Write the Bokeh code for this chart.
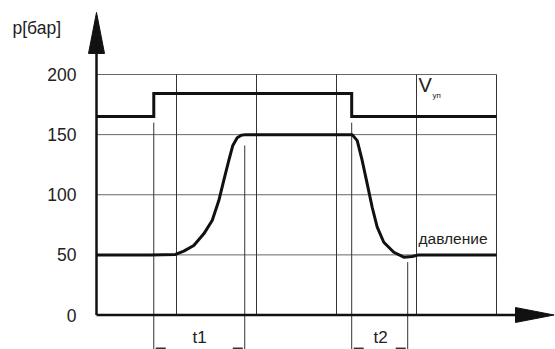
from bokeh.plotting import figure
from bokeh.embed import file_html
from bokeh.resources import INLINE
from bokeh.core.properties import value

# --- data ---
y_ticks = [0, 50, 100, 150, 200]
y_tick_labels = ["0", "50", "100", "150", "200"]
x_grid = [1, 2, 3, 4, 5]

# valve signal V_уп (step)
v_x = [0, 0.716, 0.716, 3.19, 3.19, 5]
v_y = [165.1, 165.1, 184.2, 184.2, 165.1, 165.1]

# pressure curve (давление)
p_x = [0, 0.675, 0.9875, 1.091, 1.216, 1.341, 1.446, 1.529, 1.591, 1.654, 1.704, 1.759, 1.81, 1.8625,
       2.9875, 3.196, 3.259, 3.321, 3.384, 3.446, 3.509, 3.591, 3.716, 3.841, 3.946, 4.029, 5]
p_y = [50, 50, 50.4, 53.1, 57.8, 67.5, 78.6, 95.2, 111.9, 128.5, 141, 147.4, 149.5, 150,
       150, 150, 145, 128.5, 109, 89.6, 73, 60.5, 52.2, 48.1, 48.6, 50, 50]

# time markers
mark_x = [0.716, 1.853, 3.19, 3.89]
mark_top = [160, 141, 160, 44]
t_labels = ["t1", "t2"]
t_label_x = [1.2875, 3.55]

FONT = value("Liberation Sans")

W, H = 555, 349
XS, Y0, YS = 80.0, 314.5, 1.2025  # px per x unit, px of y=0, px per y unit
p = figure(width=W, height=H, output_backend="svg", toolbar_location=None,
           x_range=(-96 / XS, (W - 96) / XS), y_range=((Y0 - H) / YS, Y0 / YS),
           x_axis_type=None, y_axis_type=None, min_border=0,
           outline_line_color=None)
p.background_fill_color = "white"
p.border_fill_color = "white"

# grid
p.multi_line([[0, 5] for _ in y_ticks[1:]], [[v, v] for v in y_ticks[1:]],
             line_color="#666666", line_width=1)
p.multi_line([[v, v] for v in x_grid], [[0, 200] for _ in x_grid],
             line_color="#333333", line_width=1)

# marker lines
p.multi_line([[x, x] for x in mark_x], [[t, -40] for t in mark_top],
             line_color="#333333", line_width=1)

# dimension arrow stubs (mostly cut off at the bottom edge)
dim_y = (Y0 - 347.8) / YS
stubs_x = []
for a, b in [(mark_x[0], mark_x[1]), (mark_x[2], mark_x[3])]:
    stubs_x.append([a + 2 / XS, a + 12 / XS])
    stubs_x.append([b - 12 / XS, b - 2 / XS])
p.multi_line(stubs_x, [[dim_y, dim_y]] * len(stubs_x), line_color="#333333", line_width=1.5)

# axes
p.line([0, 0], [0, 220], line_color="#111111", line_width=2.5)
p.patch([-0.1, 0.1, 0.0], [217.5, 217.5, 251.6], fill_color="#111111", line_color="#111111")
p.line([0, 5.25], [0, 0], line_color="#111111", line_width=2.5)
p.patch([5.2375, 5.2375, 5.72], [-6.2, 6.2, 0], fill_color="#111111", line_color="#111111")

# signals
p.line(v_x, v_y, line_color="#111111", line_width=3, line_join="miter")
p.line(p_x, p_y, line_color="#111111", line_width=3, line_join="round")

# tick labels
p.text(x=[-0.25] * len(y_ticks), y=y_ticks, text=y_tick_labels, text_font=FONT,
       text_font_size="17.5px", text_align="right", text_baseline="middle", text_color="#222222")

# axis title
p.text(x=[-1.05], y=[239], text=["p[бар]"], text_font=FONT, text_font_size="17.5px",
       text_align="left", text_baseline="middle", text_color="#222222")

# t labels
p.text(x=t_label_x, y=[-18.3, -18.3], text=t_labels, text_font=FONT, text_font_size="17px",
       text_align="center", text_baseline="middle", text_color="#222222")

# V_уп label
p.text(x=[4.025], y=[190.9], text=["V"], text_font=FONT, text_font_size="20px",
       text_align="left", text_baseline="middle", text_color="#222222")
p.text(x=[4.2], y=[182.3], text=["уп"], text_font=FONT, text_font_size="8px",
       text_align="left", text_baseline="middle", text_color="#222222")

# давление label
p.text(x=[4.025], y=[63.6], text=["давление"], text_font=FONT, text_font_size="15.5px",
       text_align="left", text_baseline="middle", text_color="#222222")

open("out.html", "w").write(file_html(p, INLINE))
